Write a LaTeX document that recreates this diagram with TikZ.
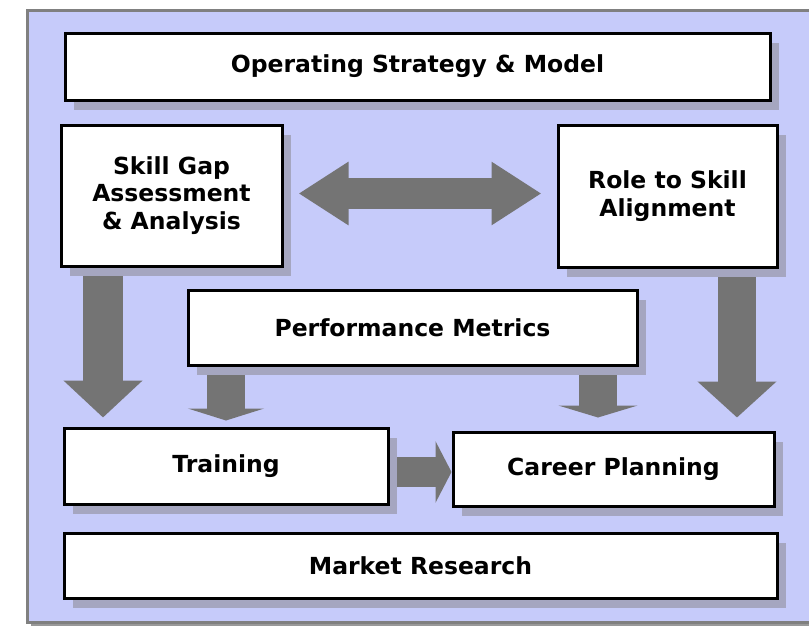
\documentclass[tikz,border=0pt]{standalone}
\usepackage{fontspec}
\setmainfont{DejaVu Sans}
\usepackage{tikz}
\usetikzlibrary{arrows.meta,shapes,positioning,shadows,backgrounds}
\definecolor{pnlblue}{RGB}{198,203,250}
\definecolor{pnlgray}{RGB}{128,128,128}
\definecolor{pnlshadow}{RGB}{165,166,192}
\definecolor{arrowgray}{RGB}{116,116,116}
\tikzstyle{blockbox} = [rectangle, draw=black, line width=3pt, fill=white, align=center, inner sep=0pt, font=\fontsize{23.5}{27.5}\selectfont\bfseries, drop shadow={shadow xshift=9pt, shadow yshift=-10pt, fill=pnlshadow, opacity=1}]
\tikzstyle{fatarrow} = [draw=arrowgray, line cap=butt]

\begin{document}
\begin{tikzpicture}[x=1pt, y=-1pt]
\useasboundingbox (0,0) rectangle (809,629);

% Boxes
\node[blockbox, minimum width=705pt, minimum height=67pt] (strat) at (417.5,66.5) {Operating Strategy \& Model};
\node[blockbox, minimum width=221pt, minimum height=141pt] (skill) at (171.5,195.5) {Skill Gap\\Assessment\\\& Analysis};
\node[blockbox, minimum width=219pt, minimum height=142pt] (role) at (667.5,196) {Role to Skill\\Alignment};
\node[blockbox, minimum width=449pt, minimum height=75pt] (perf) at (412.5,327.5) {Performance Metrics};
\node[blockbox, minimum width=324pt, minimum height=76pt] (train) at (226,466) {Training};
\node[blockbox, minimum width=321pt, minimum height=74pt] (career) at (613.5,469) {Career Planning};
\node[blockbox, minimum width=713pt, minimum height=65pt] (market) at (420.5,565.5) {Market Research};

\begin{scope}[on background layer]
% Panel
\draw[pnlgray, line width=3pt, fill=pnlblue, drop shadow={shadow xshift=4pt, shadow yshift=-4pt, fill=pnlgray!80, opacity=1}] (27,10) rectangle (816,622);

% Arrows
\coordinate (dbl) at ([yshift=2pt]skill.east);
\draw[fatarrow, line width=31pt, {Triangle[width=60pt,length=50pt]}-{Triangle[width=60pt,length=50pt]}, shorten <=15pt, shorten >=15pt] (dbl) -- (dbl -| role.west);

\coordinate (sgdown) at ([xshift=-68.5pt]skill.south);
\draw[fatarrow, line width=40pt, -{Triangle[width=77pt,length=37pt]}, shorten >=9pt] (sgdown) -- (sgdown |- train.north);

\coordinate (rsdown) at ([xshift=69.5pt]role.south);
\draw[fatarrow, line width=38pt, -{Triangle[width=77pt,length=36pt]}, shorten >=13pt] (rsdown) -- (rsdown |- career.north);

\draw[fatarrow, line width=38pt, -{Triangle[width=76pt,length=12pt]}, shorten >=6pt] (train.north |- perf.south) -- (train.north);

\coordinate (pmdown) at ([xshift=-15.5pt]career.north);
\draw[fatarrow, line width=38pt, -{Triangle[width=79pt,length=12pt]}, shorten >=13pt] (pmdown |- perf.south) -- (pmdown);

\coordinate (tcmid) at ([yshift=-6pt]train.east);
\draw[fatarrow, line width=30pt, -{Triangle[width=61pt,length=16pt]}] (tcmid) -- (tcmid -| career.west);
\end{scope}
\end{tikzpicture}
\end{document}
